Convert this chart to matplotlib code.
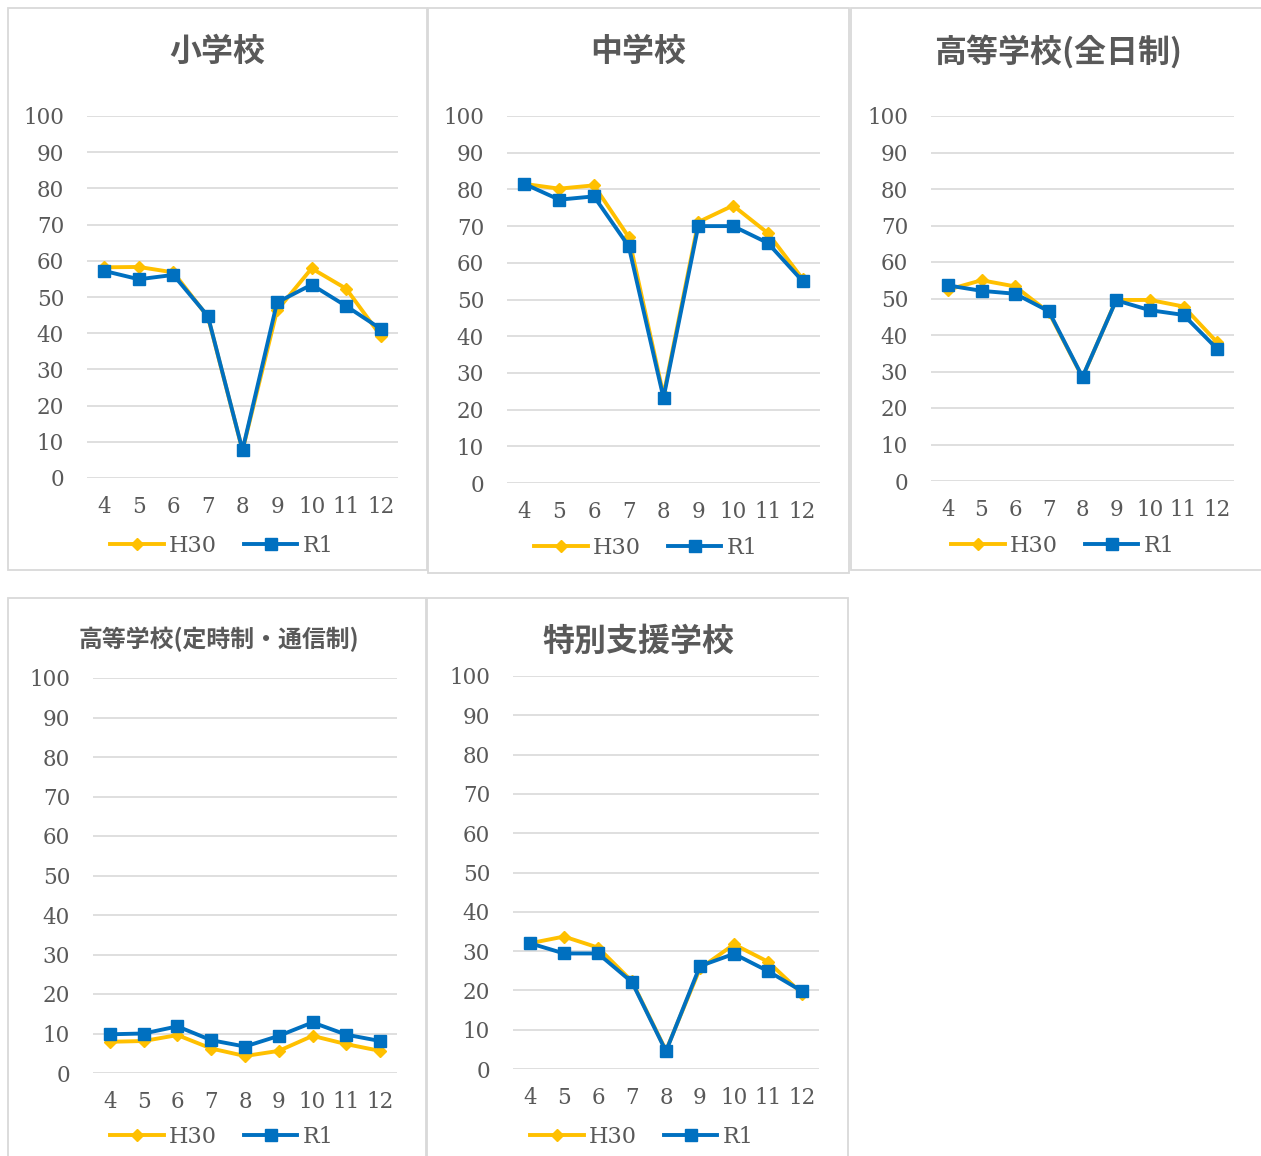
import matplotlib
matplotlib.use('Agg')
import matplotlib.pyplot as plt
from matplotlib.patches import Rectangle

W, H = 1261, 1156

months = ['4', '5', '6', '7', '8', '9', '10', '11', '12']
titles = ['小学校', '中学校', '高等学校(全日制)', '高等学校(定時制・通信制)', '特別支援学校']

h30_elem = [58.2, 58.3, 56.8, 44.5, 7.6, 46.3, 57.9, 52.3, 39.3]
r1_elem = [57.2, 54.9, 56.1, 44.7, 7.7, 48.5, 53.4, 47.5, 41.2]

h30_jhs = [81.5, 80.2, 81.1, 67.0, 23.9, 71.1, 75.6, 68.1, 55.6]
r1_jhs = [81.5, 77.2, 78.1, 64.5, 23.2, 70.0, 70.0, 65.4, 55.0]

h30_hs_full = [52.4, 55.0, 53.3, 46.2, 28.4, 49.6, 49.6, 47.8, 38.0]
r1_hs_full = [53.6, 52.1, 51.3, 46.5, 28.5, 49.5, 46.8, 45.5, 36.2]

h30_hs_part = [7.9, 8.1, 9.6, 6.2, 4.3, 5.6, 9.4, 7.3, 5.6]
r1_hs_part = [9.8, 10.0, 11.8, 8.3, 6.7, 9.4, 12.8, 9.7, 8.1]

h30_special = [32.0, 33.7, 30.9, 22.3, 4.7, 25.6, 31.7, 27.3, 19.2]
r1_special = [32.0, 29.4, 29.4, 22.1, 4.5, 26.2, 29.3, 24.9, 19.8]

series = [(h30_elem, r1_elem), (h30_jhs, r1_jhs), (h30_hs_full, r1_hs_full),
          (h30_hs_part, r1_hs_part), (h30_special, r1_special)]

# layout in pixels: box (x0, y0, x1, y1), plot (x0, y0, x1, y1), title (x, y, size), legend (x, y)
boxes = [(8, 8, 427, 570), (428, 8, 849, 573), (851, 8, 1262, 570),
         (8, 598, 426, 1160), (427, 598, 848, 1160)]
plots = [(87, 116, 398, 478), (507, 116, 820, 483), (931, 116, 1234, 481),
         (93, 678, 397, 1073), (513, 676, 819, 1069)]
title_pos = [(217, 52, 23), (638, 52, 23), (1058, 52, 23), (219, 639, 17.2), (638, 642, 23)]
legend_pos = [(222, 546), (646, 548), (1063, 546), (222, 1137), (642, 1137)]

YELLOW = '#FFC000'
BLUE = '#0070C0'
GRID = '#D9D9D9'
TXT = '#595959'
NUM_FONT = 'DejaVu Serif'

fig = plt.figure(figsize=(W / 100, H / 100), dpi=100)


def fx(x):
    return x / W


def fy(y):
    return 1 - y / H


for i in range(5):
    bx0, by0, bx1, by1 = boxes[i]
    fig.patches.append(Rectangle((fx(bx0), fy(by1)), fx(bx1 - bx0), (by1 - by0) / H,
                                 transform=fig.transFigure, fill=False,
                                 edgecolor=GRID, linewidth=1.3))

    px0, py0, px1, py1 = plots[i]
    ax = fig.add_axes([fx(px0), fy(py1), fx(px1 - px0), (py1 - py0) / H])
    h30, r1 = series[i]
    x = range(len(months))
    ax.plot(x, h30, color=YELLOW, lw=2.8, marker='D', ms=6.5, label='H30', zorder=3)
    ax.plot(x, r1, color=BLUE, lw=2.8, marker='s', ms=8, label='R1', zorder=4)

    ax.set_xlim(-0.5, len(months) - 0.5)
    ax.set_ylim(0, 100)
    ax.set_yticks(range(0, 101, 10))
    ax.set_xticks(list(x))
    ax.set_xticklabels(months)
    ax.grid(axis='y', color=GRID, lw=1.2)
    ax.set_axisbelow(True)
    for s in ax.spines.values():
        s.set_visible(False)
    ax.tick_params(length=0, labelcolor=TXT, labelsize=15.5)
    ax.tick_params(axis='y', pad=16.5)
    ax.tick_params(axis='x', pad=13)
    for lab in ax.get_xticklabels() + ax.get_yticklabels():
        lab.set_family(NUM_FONT)

    tx, ty, tsize = title_pos[i]
    fig.text(fx(tx), fy(ty), titles[i], ha='center', va='center', fontsize=tsize,
             fontweight='bold', color=TXT, family=['Noto Sans CJK JP', 'DejaVu Sans'])

    lx, ly = legend_pos[i]
    leg = ax.legend(loc='center', bbox_to_anchor=(fx(lx), fy(ly)),
                    bbox_transform=fig.transFigure, ncol=2, frameon=False,
                    handlelength=2.4, handletextpad=0.25, columnspacing=1.2,
                    prop={'family': NUM_FONT, 'size': 16})
    for t in leg.get_texts():
        t.set_color(TXT)

plt.savefig('out.png', dpi=100)
